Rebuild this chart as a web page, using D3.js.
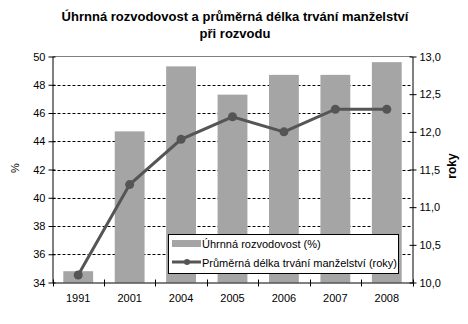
<!DOCTYPE html>
<html>
<head>
<meta charset="utf-8">
<script src="https://cdn.jsdelivr.net/npm/d3@7/dist/d3.min.js"></script>
<style>
  html, body { margin: 0; padding: 0; background: #fff; }
  svg { display: block; font-family: Arial, "Liberation Sans", sans-serif; }
</style>
</head>
<body>
<svg id="chart" width="468" height="324"></svg>
<script>
// Data
const years = ["1991", "2001", "2004", "2005", "2006", "2007", "2008"];
const divorceRate = [34.8, 44.7, 49.3, 47.3, 48.7, 48.7, 49.6];     // Úhrnná rozvodovost (%)
const marriageLength = [10.1, 11.3, 11.9, 12.2, 12.0, 12.3, 12.3];  // Průměrná délka trvání manželství (roky)
const leftTicks = [34, 36, 38, 40, 42, 44, 46, 48, 50];
const rightTicks = [10.0, 10.5, 11.0, 11.5, 12.0, 12.5, 13.0];
const titleLines = ["Úhrnná rozvodovost a průměrná délka trvání manželství", "při rozvodu"];
const legendLabels = ["Úhrnná rozvodovost (%)", "Průměrná délka trvání manželství (roky)"];

const svg = d3.select("#chart");
const m = { left: 52.5, right: 412.5, top: 56.5, bottom: 282.5 };

const x = d3.scaleBand().domain(years).range([m.left, m.right]).paddingInner(0.42).paddingOuter(0.21);
const xb = d3.scaleBand().domain(years).range([m.left, m.right]);
const yL = d3.scaleLinear().domain([34, 50]).range([m.bottom, m.top]);
const yR = d3.scaleLinear().domain([10, 13]).range([m.bottom, m.top]);

const barColor = "#a5a5a5";
const lineColor = "#555555";

// Title
svg.append("g").selectAll("text").data(titleLines).join("text")
  .attr("x", 235).attr("y", (d, i) => 21 + i * 17)
  .attr("text-anchor", "middle")
  .attr("font-size", 13).attr("font-weight", "bold")
  .text(d => d);

// Gridlines
svg.append("g").selectAll("line").data(leftTicks.filter(t => t > 34 && t < 50)).join("line")
  .attr("x1", m.left).attr("x2", m.right)
  .attr("y1", d => Math.round(yL(d)) + 0.5).attr("y2", d => Math.round(yL(d)) + 0.5)
  .attr("stroke", "#000").attr("stroke-width", 1).attr("stroke-dasharray", "3,2");
svg.append("line")
  .attr("x1", m.left).attr("x2", m.right).attr("y1", m.top).attr("y2", m.top)
  .attr("stroke", "#808080");

// Bars
svg.append("g").selectAll("rect").data(years).join("rect")
  .attr("x", (d) => x(d))
  .attr("width", x.bandwidth())
  .attr("y", (d, i) => yL(divorceRate[i]))
  .attr("height", (d, i) => yL(34) - yL(divorceRate[i]))
  .attr("fill", barColor);

// Line
const pts = years.map((d, i) => [xb(d) + xb.bandwidth() / 2, yR(marriageLength[i])]);
svg.append("path").datum(pts)
  .attr("d", d3.line())
  .attr("fill", "none").attr("stroke", lineColor).attr("stroke-width", 3);
svg.append("g").selectAll("circle").data(pts).join("circle")
  .attr("cx", d => d[0]).attr("cy", d => d[1]).attr("r", 4.5)
  .attr("fill", lineColor);

// Axes
const leftAxis = d3.axisLeft(yL).tickValues(leftTicks).tickSizeInner(4).tickSizeOuter(0).tickFormat(d3.format("d"));
const gl = svg.append("g").attr("transform", `translate(${m.left},0)`).call(leftAxis);
const rightAxis = d3.axisRight(yR).tickValues(rightTicks).tickSizeInner(4).tickSizeOuter(0)
  .tickFormat(d => d3.format(".1f")(d).replace(".", ","));
const gr = svg.append("g").attr("transform", `translate(${m.right},0)`).call(rightAxis);
const bottomAxis = d3.axisBottom(xb).tickSize(0).tickPadding(12);
const gb = svg.append("g").attr("transform", `translate(0,${m.bottom})`).call(bottomAxis);

[gl, gr, gb].forEach(g => {
  g.select(".domain").attr("stroke", "#000");
  g.selectAll("text").attr("font-size", 11).attr("font-family", "Arial, 'Liberation Sans', sans-serif").attr("fill", "#000");
  g.selectAll(".tick line").attr("stroke", "#000");
});
// ticks cross the vertical axes
gl.selectAll(".tick line").attr("x1", 3);
gl.selectAll("text").attr("x", -7);
gr.selectAll(".tick line").attr("x1", -3);
gr.selectAll("text").attr("x", 7);

// category boundary ticks on the x axis
const bounds = years.map(d => xb(d)).concat([m.right]);
svg.append("g").selectAll("line").data(bounds).join("line")
  .attr("x1", d => Math.round(d) + 0.5).attr("x2", d => Math.round(d) + 0.5)
  .attr("y1", m.bottom - 3).attr("y2", m.bottom + 4)
  .attr("stroke", "#000");

// Axis titles
svg.append("text").attr("transform", "translate(19,168) rotate(-90)")
  .attr("text-anchor", "middle").attr("font-size", 11).text("%");
svg.append("text").attr("transform", "translate(456,166) rotate(-90)")
  .attr("text-anchor", "middle").attr("font-size", 12).attr("font-weight", "bold").text("roky");

// Legend
const lg = svg.append("g");
lg.append("rect").attr("x", 168.5).attr("y", 234.5).attr("width", 230).attr("height", 39)
  .attr("fill", "#fff").attr("stroke", "#000");
lg.append("rect").attr("x", 172).attr("y", 240).attr("width", 29).attr("height", 7).attr("fill", barColor);
lg.append("line").attr("x1", 172).attr("x2", 201).attr("y1", 262).attr("y2", 262)
  .attr("stroke", lineColor).attr("stroke-width", 3);
lg.append("circle").attr("cx", 187).attr("cy", 262).attr("r", 3).attr("fill", lineColor);
lg.selectAll("text.l").data(legendLabels).join("text")
  .attr("class", "l")
  .attr("x", 202).attr("y", (d, i) => 248 + i * 19)
  .attr("font-size", 11).text(d => d);
</script>
</body>
</html>
